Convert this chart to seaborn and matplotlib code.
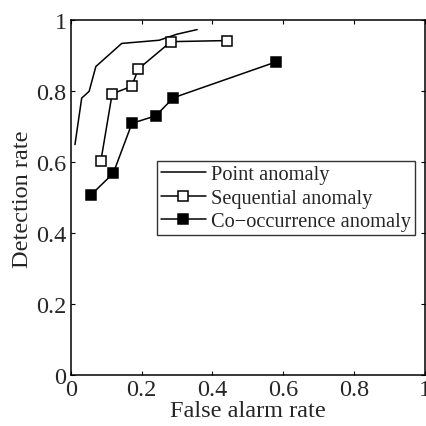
import matplotlib
matplotlib.use("Agg")
import matplotlib.pyplot as plt
import seaborn as sns
import pandas as pd

# values
point_x = [0.012, 0.031, 0.052, 0.071, 0.144, 0.25, 0.30, 0.357]
point_y = [0.65, 0.781, 0.80, 0.87, 0.935, 0.944, 0.961, 0.974]
seq_x = [0.085, 0.117, 0.172, 0.191, 0.283, 0.44]
seq_y = [0.603, 0.793, 0.814, 0.863, 0.94, 0.943]
cooc_x = [0.057, 0.12, 0.173, 0.24, 0.29, 0.58]
cooc_y = [0.508, 0.569, 0.71, 0.731, 0.782, 0.883]
series = ["Point anomaly", "Sequential anomaly", "Co\u2212occurrence anomaly"]
ticks = [0, 0.2, 0.4, 0.6, 0.8, 1]
tick_labels = ["0", "0.2", "0.4", "0.6", "0.8", "1"]

sns.set_style("ticks")
plt.rcParams['font.family'] = ['Liberation Serif', 'DejaVu Serif']
plt.rcParams['xtick.direction'] = 'in'
plt.rcParams['ytick.direction'] = 'in'

fig = plt.figure(figsize=(4.27, 4.27), dpi=100)
ax = fig.add_axes([0.1656, 0.1187, 0.8294, 0.8313])

df_p = pd.DataFrame({"x": point_x, "y": point_y})
df_s = pd.DataFrame({"x": seq_x, "y": seq_y})
df_c = pd.DataFrame({"x": cooc_x, "y": cooc_y})

sns.lineplot(data=df_p, x="x", y="y", sort=False, ax=ax, color="black",
             linewidth=1.1, label=series[0])
sns.lineplot(data=df_s, x="x", y="y", sort=False, ax=ax, color="black",
             linewidth=1.1, marker="s", markersize=7, markerfacecolor="white",
             markeredgecolor="black", markeredgewidth=1.1, label=series[1])
sns.lineplot(data=df_c, x="x", y="y", sort=False, ax=ax, color="black",
             linewidth=1.1, marker="s", markersize=7, markerfacecolor="black",
             markeredgecolor="black", markeredgewidth=1.1, label=series[2])

ax.set_xlim(0, 1)
ax.set_ylim(0, 1)
ax.set_xticks(ticks)
ax.set_xticklabels(tick_labels)
ax.set_yticks(ticks)
ax.set_yticklabels(tick_labels)
ax.tick_params(labelsize=17.5, top=True, right=True, length=3, width=0.8, color="black", pad=3)
for s in ax.spines.values():
    s.set_linewidth(1.1)
    s.set_color("black")
ax.set_xlabel("False alarm rate", fontsize=17.5, labelpad=0)
ax.set_ylabel("Detection rate", fontsize=17.5, labelpad=2)

leg = ax.legend(loc="upper left", bbox_to_anchor=(0.243, 0.604), fontsize=14.7,
                frameon=True, fancybox=False, borderpad=0.2, labelspacing=0.2,
                handlelength=2.2, handletextpad=0.25, borderaxespad=0)
leg.get_frame().set_edgecolor("black")
leg.get_frame().set_linewidth(1.0)

fig.savefig("out.png", dpi=100)
